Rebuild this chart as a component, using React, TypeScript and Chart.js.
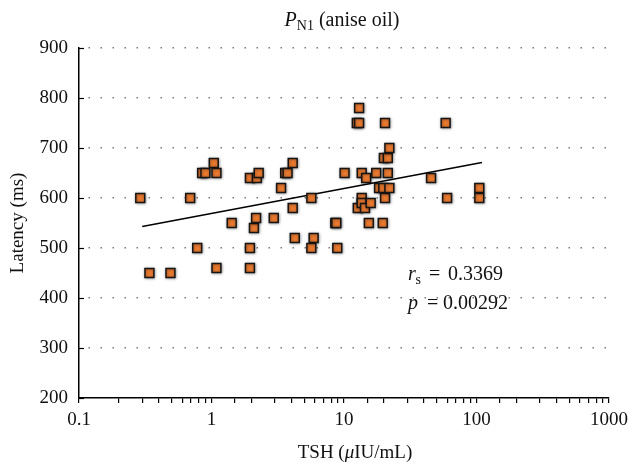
import { useEffect, useRef } from "react";
import { Chart, registerables } from "chart.js";

Chart.register(...registerables);

// TSH (µIU/mL) and latency (ms) for each subject
const tshValues = [
  0.29, 0.34, 0.49, 0.69, 0.78, 0.85, 0.9, 1.04, 1.09, 1.09,
  1.42, 1.95, 1.95, 1.95, 2.09, 2.17, 2.2, 2.27, 2.95, 3.35,
  3.6, 3.75, 4.1, 4.1, 4.25, 5.67, 5.9, 5.67, 8.6, 8.75,
  8.9, 10.1, 12.5, 13.0, 13.0, 12.7, 13.6, 13.6, 13.6, 14.4,
  14.7, 15.9, 15.4, 17.5, 18.4, 19.8, 19.6, 20.4, 20.4, 20.0,
  21.4, 21.4, 22.0, 22.0, 45.4, 58.5, 60.0, 105, 105,
];
const latencyValues = [
  600, 450, 450, 600, 500, 650, 650, 670, 650, 460,
  550, 640, 500, 460, 540, 560, 640, 650, 560, 620,
  650, 650, 670, 580, 520, 600, 520, 500, 550, 550,
  500, 650, 750, 750, 780, 580, 650, 600, 590, 580,
  640, 590, 550, 650, 620, 620, 550, 750, 600, 680,
  680, 650, 620, 700, 640, 750, 600, 620, 600,
];

// regression line end points
const fitX = [0.3, 110];
const fitY = [543, 671];

const yTickValues = [200, 300, 400, 500, 600, 700, 800, 900];
const xTickLabels = ["0.1", "1", "10", "100", "1000"];

const titleMain = "P";
const titleSub = "N1";
const titleRest = " (anise oil)";
const yTitle = "Latency (ms)";
const statR = "0.3369";
const statP = "0.00292";

const SERIF = '"Liberation Serif", "Times New Roman", serif';

const decor = {
  id: "decor",
  beforeDatasetDraw(chart: any, args: any) {
    if (args.index === 0) {
      const c = chart.ctx;
      c.save();
      c.shadowColor = "rgba(0,0,0,0.4)";
      c.shadowBlur = 3;
      c.shadowOffsetX = 0.5;
      c.shadowOffsetY = 0.5;
    }
  },
  afterDatasetDraw(chart: any, args: any) {
    if (args.index === 0) chart.ctx.restore();
  },
  afterDraw(chart: any) {
    const c = chart.ctx as CanvasRenderingContext2D;
    const area = chart.chartArea;
    const ys = chart.scales.y;
    c.save();
    // inward y ticks
    c.strokeStyle = "#000";
    c.lineWidth = 1.2;
    yTickValues.forEach((v) => {
      const py = Math.round(ys.getPixelForValue(v)) + 0.5;
      c.beginPath();
      c.moveTo(area.left, py);
      c.lineTo(area.left + 5, py);
      c.stroke();
    });

    c.fillStyle = "#111";
    c.textBaseline = "alphabetic";
    c.textAlign = "left";

    // title
    const cx = (area.left + area.right) / 2;
    c.font = `italic 20px ${SERIF}`;
    const w1 = c.measureText(titleMain).width;
    c.font = `14px ${SERIF}`;
    const w2 = c.measureText(titleSub).width;
    c.font = `20px ${SERIF}`;
    const w3 = c.measureText(titleRest).width;
    let tx = cx - 2 - (w1 + w2 + w3) / 2;
    c.font = `italic 20px ${SERIF}`;
    c.fillText(titleMain, tx, 25.5);
    tx += w1;
    c.font = `14px ${SERIF}`;
    c.fillText(titleSub, tx, 30);
    tx += w2;
    c.font = `20px ${SERIF}`;
    c.fillText(titleRest, tx, 25.5);

    // y axis title
    c.save();
    c.translate(18, (area.top + area.bottom) / 2);
    c.rotate(-Math.PI / 2);
    c.textAlign = "center";
    c.textBaseline = "middle";
    c.font = `19px ${SERIF}`;
    c.fillText(yTitle, 0, 0);
    c.restore();

    // x axis title: TSH (μIU/mL)
    const parts: [string, boolean][] = [["TSH (", false], ["\u03bc", true], ["IU/mL)", false]];
    let tot = 0;
    parts.forEach(([s, it]) => {
      c.font = `${it ? "italic " : ""}19px ${SERIF}`;
      tot += c.measureText(s).width;
    });
    let xx = cx + 11 - tot / 2;
    parts.forEach(([s, it]) => {
      c.font = `${it ? "italic " : ""}19px ${SERIF}`;
      c.fillText(s, xx, 458);
      xx += c.measureText(s).width;
    });

    // statistics
    const sx = 408;
    c.font = `italic 20px ${SERIF}`;
    c.fillText("r", sx, 280);
    c.font = `14px ${SERIF}`;
    c.fillText("s", sx + 7.5, 284);
    c.font = `20px ${SERIF}`;
    c.fillText("=", sx + 21, 280);
    c.fillText(statR, sx + 40, 280);

    c.font = `italic 20px ${SERIF}`;
    c.fillText("p", sx, 309);
    c.font = `20px ${SERIF}`;
    c.fillText("=", sx + 19, 309);
    c.fillText(statP, sx + 35, 309);

    c.restore();
  },
};

export default function App() {
  const ref = useRef<HTMLCanvasElement | null>(null);

  useEffect(() => {
    if (!ref.current) return;
    const points = tshValues.map((x, i) => ({ x, y: latencyValues[i] }));
    const fit = fitX.map((x, i) => ({ x, y: fitY[i] }));
    const chart = new Chart(ref.current, {
      type: "scatter",
      data: {
        datasets: [
          {
            type: "scatter",
            data: points,
            order: 0,
            pointStyle: "rect",
            pointRadius: 6.3,
            pointBackgroundColor: "#E97A30",
            pointBorderColor: "#151515",
            pointBorderWidth: 1.5,
          },
          {
            type: "line",
            data: fit,
            order: 1,
            borderColor: "#000",
            borderWidth: 1.6,
            pointRadius: 0,
            showLine: true,
            fill: false,
          },
        ],
      },
      options: {
        responsive: false,
        animation: false,
        events: [],
        layout: { padding: { top: 48, right: 19, left: 0, bottom: 0 } },
        plugins: {
          legend: { display: false },
          tooltip: { enabled: false },
          title: { display: false },
        },
        scales: {
          x: {
            type: "logarithmic",
            min: 0.1,
            max: 1000,
            afterFit: (s: any) => {
              s.height = 68;
              s.paddingRight = 0;
              s.paddingLeft = 0;
            },
            border: { display: true, color: "#000", width: 1.5 },
            grid: {
              display: true,
              drawOnChartArea: false,
              drawTicks: true,
              tickLength: 5,
              color: "#000",
              lineWidth: 1.2,
            },
            ticks: {
              autoSkip: false,
              maxRotation: 0,
              minRotation: 0,
              padding: 6,
              color: "#111",
              font: { family: SERIF, size: 19 },
              callback: (value: any) => {
                const v = Number(value);
                const l = Math.log10(v);
                const r = Math.round(l);
                return Math.abs(l - r) < 1e-6 ? xTickLabels[r + 1] : "";
              },
            },
          },
          y: {
            min: 200,
            max: 900,
            afterFit: (s: any) => {
              s.width = 79;
              s.paddingTop = 0;
              s.paddingBottom = 0;
            },
            border: { display: true, color: "#000", width: 1.5, dash: [1.5, 10.5], dashOffset: -9 },
            grid: {
              display: true,
              drawTicks: false,
              lineWidth: 1.5,
              color: (ctx: any) => (ctx.tick && ctx.tick.value === 200 ? "rgba(0,0,0,0)" : "#7a7a7a"),
            },
            ticks: {
              stepSize: 100,
              padding: 11,
              color: "#111",
              font: { family: SERIF, size: 19 },
              callback: (v: any) => String(v),
            },
          },
        },
      },
      plugins: [decor],
    });
    return () => chart.destroy();
  }, []);

  return (
    <div style={{ position: "fixed", left: 0, top: 0, width: 628, height: 466, background: "#fff" }}>
      <canvas ref={ref} width={628} height={466} style={{ display: "block" }} />
    </div>
  );
}
